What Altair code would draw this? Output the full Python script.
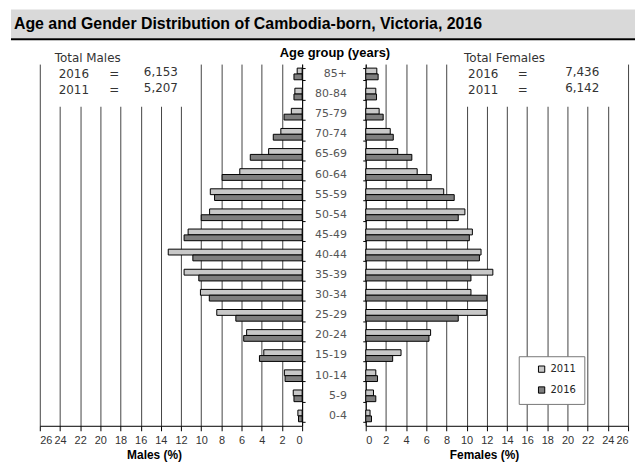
import altair as alt
import pandas as pd

ages = ["85+", "80-84", "75-79", "70-74", "65-69", "60-64", "55-59", "50-54", "45-49",
        "40-44", "35-39", "30-34", "25-29", "20-24", "15-19", "10-14", "5-9", "0-4"]
males_2011 = [0.49, 0.72, 1.07, 2.11, 3.32, 6.18, 9.1, 9.17, 11.3,
              13.27, 11.7, 10.08, 8.46, 5.5, 3.8, 1.76, 0.88, 0.42]
males_2016 = [0.81, 0.81, 1.79, 2.86, 5.14, 7.93, 8.68, 10.0, 11.7,
              10.83, 10.24, 9.2, 6.57, 5.79, 4.23, 1.69, 0.81, 0.36]
females_2011 = [1.1, 1.0, 1.33, 2.43, 3.17, 5.1, 7.73, 9.83, 10.57,
                11.43, 12.6, 10.43, 12.0, 6.43, 3.5, 1.0, 0.77, 0.43]
females_2016 = [1.23, 1.07, 1.73, 2.73, 4.57, 6.5, 8.77, 9.17, 10.27,
                11.27, 10.43, 12.0, 9.17, 6.27, 2.67, 1.17, 1.0, 0.57]
years = ["2011", "2016"]
year_colors = ["#c8c8c8", "#7f7f7f"]
tick_values = list(range(0, 27, 2))
title_text = "Age and Gender Distribution of Cambodia-born, Victoria, 2016"
male_totals = ["6,153", "5,207"]
female_totals = ["7,436", "6,142"]

def long_df(v2011, v2016):
    rows = []
    for a, p in zip(ages, v2011):
        rows.append({"age": a, "year": "2011", "pct": p})
    for a, p in zip(ages, v2016):
        rows.append({"age": a, "year": "2016", "pct": p})
    return pd.DataFrame(rows)

df_m = long_df(males_2011, males_2016)
df_f = long_df(females_2011, females_2016)

W = 264
H = 364
yscale = alt.Scale(domain=ages, paddingInner=0.42, paddingOuter=0.2)
one = pd.DataFrame({"a": [0]})

def x_axis(title, tx):
    return alt.Axis(values=tick_values, grid=True, gridColor="#444", gridWidth=1,
                    domainColor="black", tickColor="black", tickSize=5,
                    labelFont="Liberation Sans", labelFontSize=11, labelColor="#333",
                    labelPadding=4, title=title, titleFont="Liberation Sans",
                    titleFontSize=12, titleFontWeight="bold", titleColor="black",
                    titleX=tx, titleY=29, titleBaseline="middle")

def y_axis(orient):
    return alt.Axis(orient=orient, labels=False, title=None, grid=False,
                    domainColor="black", tickColor="black", tickSize=3,
                    tickBand="extent")

def panel(df, reverse, orient, title, tx, legend):
    return alt.Chart(df).mark_bar(stroke="black", strokeWidth=1).encode(
        y=alt.Y("age:N", sort=ages, scale=yscale, axis=y_axis(orient)),
        yOffset=alt.YOffset("year:N", sort=years),
        x=alt.X("pct:Q", scale=alt.Scale(domain=[0, 26], reverse=reverse, nice=False),
                axis=x_axis(title, tx)),
        color=alt.Color("year:N", scale=alt.Scale(domain=years, range=year_colors),
                        legend=legend),
    )

def totals_block(label, totals, x0, xeq, xnum, rect_x, rect_x2):
    box = alt.Chart(one).mark_rect(fill="white").encode(
        x=alt.value(rect_x), x2=alt.value(rect_x2), y=alt.value(0), y2=alt.value(43))
    txt = dict(font="DejaVu Sans", fontSize=12, color="#333", baseline="middle")
    head = alt.Chart(one).mark_text(align="left", text=label, **txt).encode(
        x=alt.value(x0 - 4), y=alt.value(-6))
    layers = [box, head]
    for i, (yr, tot) in enumerate(zip(["2016", "2011"], totals)):
        yy = 10 + i * 16.5
        layers.append(alt.Chart(one).mark_text(align="left", text=yr, **txt).encode(
            x=alt.value(x0), y=alt.value(yy)))
        layers.append(alt.Chart(one).mark_text(align="center", text="=", **txt).encode(
            x=alt.value(xeq), y=alt.value(yy)))
        layers.append(alt.Chart(one).mark_text(align="right", text=tot, **txt).encode(
            x=alt.value(xnum), y=alt.value(yy - 2)))
    return layers

left = alt.layer(
    panel(df_m, True, "right", "Males (%)", 115, None),
    *totals_block("Total Males", male_totals, 19, 75, 139, 9, 153),
).properties(width=W, height=H)

legend = alt.Legend(orient="none", legendX=154, legendY=294, title=None,
                    fillColor="white", strokeColor="#777", padding=8,
                    labelFont="DejaVu Sans", labelFontSize=10, labelColor="#222",
                    symbolType="square", symbolSize=40, symbolStrokeColor="black",
                    symbolStrokeWidth=1, rowPadding=9, symbolOffset=10)

right = alt.layer(
    panel(df_f, False, "left", "Females (%)", 119, legend),
    *totals_block("Total Females", female_totals, 103, 158, 235, 88, 252),
).properties(width=W, height=H)

center = alt.layer(
    alt.Chart(pd.DataFrame({"age": ages})).mark_text(
        align="right", baseline="middle", font="DejaVu Sans", fontSize=11, color="#555"
    ).encode(y=alt.Y("age:N", sort=ages, scale=yscale, axis=None),
             x=alt.value(45), text="age:N"),
    alt.Chart(one).mark_text(text="Age group (years)", font="Liberation Sans",
                             fontSize=13, fontWeight="bold", color="black",
                             baseline="middle").encode(x=alt.value(33), y=alt.value(-11)),
).properties(width=64, height=H)

spacer = alt.Chart(one).mark_point(opacity=0).encode(
    x=alt.value(0), y=alt.value(0)).properties(width=29, height=H)

body = alt.hconcat(spacer, left, center, right, spacing=0, bounds="flush").resolve_scale(
    x="independent", color="independent").resolve_legend(color="independent")

header = alt.layer(
    alt.Chart(one).mark_rect(fill="#d9d9d9").encode(
        x=alt.value(0), x2=alt.value(628), y=alt.value(0), y2=alt.value(29)),
    alt.Chart(one).mark_rule(color="black", strokeWidth=2).encode(
        x=alt.value(0), x2=alt.value(628), y=alt.value(30)),
    alt.Chart(one).mark_text(text=title_text, align="left", baseline="middle",
                             font="Liberation Sans", fontSize=16,
                             fontWeight="bold", color="black").encode(
        x=alt.value(3), y=alt.value(15)),
).properties(width=628, height=30)

chart = alt.vconcat(header, body, spacing=25, bounds="flush").resolve_scale(
    color="independent").resolve_legend(color="independent").properties(
    padding=0).configure_view(stroke=None)

chart.save("out.html", embed_options={"renderer": "svg", "actions": False})
